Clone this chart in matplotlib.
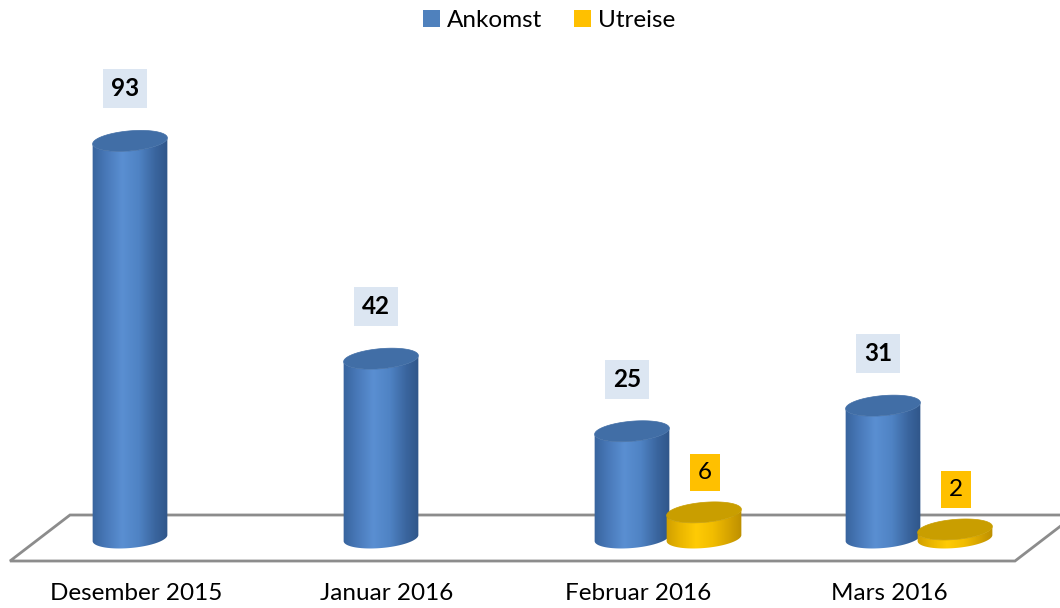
import numpy as np
import matplotlib.pyplot as plt
from matplotlib.patches import Polygon, Patch
from matplotlib.colors import LinearSegmentedColormap

categories = ['Desember 2015', 'Januar 2016', 'Februar 2016', 'Mars 2016']
series_names = ['Ankomst', 'Utreise']
ankomst = [93, 42, 25, 31]
utreise = [None, None, 6, 2]

plt.rcParams['font.family'] = ['Lato', 'DejaVu Sans']

W, H = 1060, 608
SX = 251.0      # px per category step
SY = 4.27       # px per value unit
X0 = 130        # px of first category centre
BASE = 538      # px (from top) of the baseline

fig = plt.figure(figsize=(W / 100, H / 100), dpi=100)
ax = fig.add_axes([0, 0, 1, 1])
ax.axis('off')
ax.set_xlim(-X0 / SX, (W - X0) / SX)
ax.set_ylim(-(H - BASE) / SY, BASE / SY)

blue_cmap = LinearSegmentedColormap.from_list(
    'blue', ['#345f97', '#4878b8', '#5a8fd2', '#4f83c4', '#3a659e', '#2c5183'])
gold_cmap = LinearSegmentedColormap.from_list(
    'gold', ['#c99a00', '#e9b500', '#ffcb05', '#f2bd00', '#d5a300', '#b58900'])

A, B, ANG = 37.5, 10, np.deg2rad(5)


def ellipse_pts(cx, cy, t):
    ex, ey = A * np.cos(t), B * np.sin(t)
    rx = ex * np.cos(ANG) - ey * np.sin(ANG)
    ry = ex * np.sin(ANG) + ey * np.cos(ANG)
    return cx + rx / SX, cy + ry / SY


def cylinder(cx, val, cmap, top_color, z):
    t_lo = np.linspace(np.pi, 2 * np.pi, 80)
    bx, by = ellipse_pts(cx, 0, t_lo)
    tx, ty = ellipse_pts(cx, val, t_lo[::-1])
    body = Polygon(np.column_stack([np.r_[bx, tx], np.r_[by, ty]]),
                   closed=True, fc='none', ec='none', zorder=z)
    ax.add_patch(body)
    grad = np.linspace(0, 1, 256).reshape(1, -1)
    im = ax.imshow(grad, cmap=cmap, aspect='auto', zorder=z,
                   extent=[cx - 1.1 * A / SX, cx + 1.1 * A / SX,
                           -2 * B / SY, val + 2 * B / SY])
    im.set_clip_path(body)
    t = np.linspace(0, 2 * np.pi, 160)
    ex, ey = ellipse_pts(cx, val, t)
    ax.add_patch(Polygon(np.column_stack([ex, ey]), closed=True,
                         fc=top_color, ec=top_color, lw=0.5, zorder=z + 0.1))


# floor
floor_x = np.array([70, 1075, 1015, 10])
floor_y = np.array([515, 515, 561, 561])
ax.add_patch(Polygon(np.column_stack([(floor_x - X0) / SX, (BASE - floor_y) / SY]),
                     closed=True, fc='white', ec='#8c8c8c', lw=2, zorder=1))

x = np.arange(len(categories))
off = 72 / SX
for i in x:
    cylinder(i, ankomst[i], blue_cmap, '#416ea6', 2 + 2 * i)
    ax.text(i - 5 / SX, ankomst[i] + 52 / SY, str(ankomst[i]), ha='center', va='center',
            fontsize=17.5, fontweight='bold', color='black', zorder=20,
            bbox=dict(boxstyle='square,pad=0.33', fc='#dce6f2', ec='none'))
    if utreise[i] is not None:
        cylinder(i + off, utreise[i], gold_cmap, '#c99e00', 3 + 2 * i)
        ax.text(i + off + 1 / SX, utreise[i] + 40 / SY, str(utreise[i]), ha='center',
                va='center', fontsize=17.5, color='black', zorder=20,
                bbox=dict(boxstyle='square,pad=0.33', fc='#ffc000', ec='none'))
    ax.text(i + 6 / SX, -(594 - BASE) / SY, categories[i], ha='center', va='center',
            fontsize=17.5, color='black')

handles = [Patch(fc='#4f81bd', ec='none'), Patch(fc='#ffc000', ec='none')]
fig.legend(handles, series_names, loc='upper center', bbox_to_anchor=(0.518, 1.02),
           ncol=2, frameon=False, fontsize=17.5, handlelength=0.7, handleheight=0.7,
           handletextpad=0.3, columnspacing=1.3)

fig.savefig('out.png', dpi=100)
